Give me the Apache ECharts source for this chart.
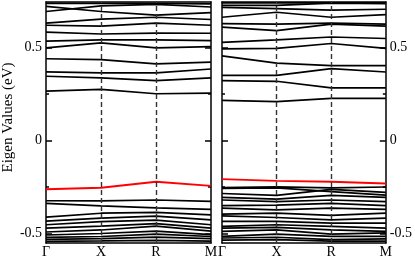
<!DOCTYPE html>
<html>
<head>
<meta charset="utf-8">
<script src="https://cdn.jsdelivr.net/npm/echarts@6/dist/echarts.min.js"></script>
<style>html,body{margin:0;padding:0;background:#fff;}#c{width:415px;height:259px;}</style>
</head>
<body>
<div id="c"></div>
<script>
const kLabels = ['Γ', 'X', 'R', 'M'];
const yMajorTicks = [-0.5, 0, 0.5];
const yMinorTicks = [-0.25, 0.25];
const yName = 'Eigen Values (eV)';

// Left panel bands (values at Γ, X, R, M)
const leftUpper = [
  [0.738, 0.738, 0.738, 0.735],
  [0.694, 0.724, 0.732, 0.718],
  [0.722, 0.694, 0.674, 0.688],
  [0.631, 0.653, 0.663, 0.651],
  [0.620, 0.615, 0.631, 0.620],
  [0.583, 0.573, 0.578, 0.577],
  [0.535, 0.541, 0.541, 0.537],
  [0.498, 0.525, 0.498, 0.505],
  [0.440, 0.435, 0.413, 0.422],
  [0.369, 0.364, 0.364, 0.385],
  [0.346, 0.337, 0.323, 0.337],
  [0.266, 0.275, 0.252, 0.255]
];
const leftRed = [-0.261, -0.253, -0.221, -0.243];
const leftLower = [
  [-0.323, -0.324, -0.319, -0.326],
  [-0.337, -0.350, -0.361, -0.369],
  [-0.411, -0.390, -0.385, -0.399],
  [-0.432, -0.416, -0.406, -0.426],
  [-0.452, -0.435, -0.427, -0.452],
  [-0.470, -0.459, -0.446, -0.470],
  [-0.491, -0.480, -0.459, -0.486],
  [-0.507, -0.499, -0.486, -0.505],
  [-0.520, -0.515, -0.502, -0.515],
  [-0.531, -0.526, -0.518, -0.526],
  [-0.541, -0.539, -0.536, -0.540]
];

// Right panel bands
const rightUpper = [
  [0.740, 0.740, 0.740, 0.740],
  [0.727, 0.727, 0.739, 0.736],
  [0.716, 0.709, 0.701, 0.706],
  [0.663, 0.690, 0.663, 0.677],
  [0.629, 0.626, 0.631, 0.626],
  [0.610, 0.591, 0.626, 0.615],
  [0.528, 0.541, 0.557, 0.549],
  [0.493, 0.496, 0.522, 0.496],
  [0.456, 0.417, 0.403, 0.403],
  [0.351, 0.351, 0.387, 0.369],
  [0.323, 0.319, 0.284, 0.284],
  [0.2165, 0.2096, 0.227, 0.227]
];
const rightRed = [-0.207, -0.216, -0.221, -0.230];
const rightLower = [
  [-0.252, -0.248, -0.254, -0.249],
  [-0.257, -0.254, -0.274, -0.293],
  [-0.284, -0.294, -0.262, -0.278],
  [-0.305, -0.314, -0.294, -0.305],
  [-0.319, -0.328, -0.319, -0.328],
  [-0.349, -0.346, -0.337, -0.349],
  [-0.363, -0.372, -0.363, -0.369],
  [-0.395, -0.390, -0.402, -0.390],
  [-0.404, -0.413, -0.426, -0.416],
  [-0.434, -0.434, -0.443, -0.443],
  [-0.461, -0.452, -0.461, -0.470],
  [-0.470, -0.466, -0.479, -0.487],
  [-0.487, -0.479, -0.502, -0.496],
  [-0.514, -0.502, -0.514, -0.514],
  [-0.523, -0.519, -0.532, -0.528],
  [-0.535, -0.532, -0.540, -0.540]
];

const FONT = 'Liberation Serif';
const Y_MIN = -0.55, Y_MAX = 0.745;

function toPts(arr) { return arr.map((v, i) => [i, v]); }

const grids = [
  { left: 43, right: 204, top: 2, bottom: 14 },
  { left: 222, right: 27, top: 2, bottom: 14 }
];

const xAxis = [];
const yAxis = [];
[0, 1].forEach(g => {
  xAxis.push({
    gridIndex: g, type: 'value', min: 0, max: kLabels.length - 1, interval: 1, position: 'bottom',
    axisLine: { show: true, onZero: false, lineStyle: { color: '#000', width: 1.5 } },
    axisTick: { show: false },
    splitLine: { show: false },
    axisLabel: {
      color: '#000', fontFamily: FONT, fontSize: 14, margin: 2,
      formatter: v => kLabels[Math.round(v)] || ''
    }
  });
  xAxis.push({
    gridIndex: g, type: 'value', min: 0, max: kLabels.length - 1, position: 'top',
    axisLine: { show: true, onZero: false, lineStyle: { color: '#000', width: 1.5 } },
    axisTick: { show: false }, splitLine: { show: false }, axisLabel: { show: false }
  });
  const labelSide = g === 0 ? 'left' : 'right';
  ['left', 'right'].forEach(side => {
    const hasLabel = side === labelSide;
    yAxis.push({
      gridIndex: g, type: 'value', min: Y_MIN, max: Y_MAX, position: side,
      name: hasLabel && g === 0 ? yName : '',
      nameLocation: 'middle', nameGap: 27,
      nameTextStyle: { color: '#000', fontFamily: FONT, fontSize: 15, padding: [0, 0, 0, 10] },
      axisLine: { show: true, onZero: false, lineStyle: { color: '#000', width: 1.5 } },
      axisTick: { show: true, inside: true, length: 6, customValues: yMajorTicks, lineStyle: { color: '#000', width: 1.5 } },
      axisLabel: { show: hasLabel, customValues: yMajorTicks, color: '#000', fontFamily: FONT, fontSize: 14, margin: 4 },
      splitLine: { show: false }
    });
    yAxis.push({
      gridIndex: g, type: 'value', min: Y_MIN, max: Y_MAX, position: side,
      axisLine: { show: false, onZero: false },
      axisTick: { show: true, inside: true, length: 3, customValues: yMinorTicks, lineStyle: { color: '#000', width: 1.5 } },
      axisLabel: { show: false },
      splitLine: { show: false }
    });
  });
});

const series = [];
function addBand(g, arr, color, width) {
  series.push({
    type: 'line', xAxisIndex: g * 2, yAxisIndex: g * 4, data: toPts(arr),
    symbol: 'none', silent: true, animation: false,
    lineStyle: { color: color, width: width }, z: color === '#000' ? 2 : 3
  });
}
[[leftUpper, leftLower, leftRed], [rightUpper, rightLower, rightRed]].forEach((p, g) => {
  p[0].forEach(b => addBand(g, b, '#000', 1.7));
  p[1].forEach(b => addBand(g, b, '#000', 1.7));
  addBand(g, p[2], '#ff0000', 1.9);
  // dashed high-symmetry lines at interior k-points
  series.push({
    type: 'line', xAxisIndex: g * 2, yAxisIndex: g * 4, data: [], symbol: 'none', animation: false,
    markLine: {
      silent: true, symbol: 'none', animation: false, label: { show: false },
      lineStyle: { color: '#333', type: [5, 3], width: 1.4 },
      data: kLabels.slice(1, -1).map((_, i) => ({ xAxis: i + 1 }))
    }
  });
});

const chart = echarts.init(document.getElementById('c'), null, { renderer: 'canvas' });
chart.setOption({
  animation: false,
  backgroundColor: '#fff',
  grid: grids,
  xAxis: xAxis,
  yAxis: yAxis,
  series: series
});
</script>
</body>
</html>
